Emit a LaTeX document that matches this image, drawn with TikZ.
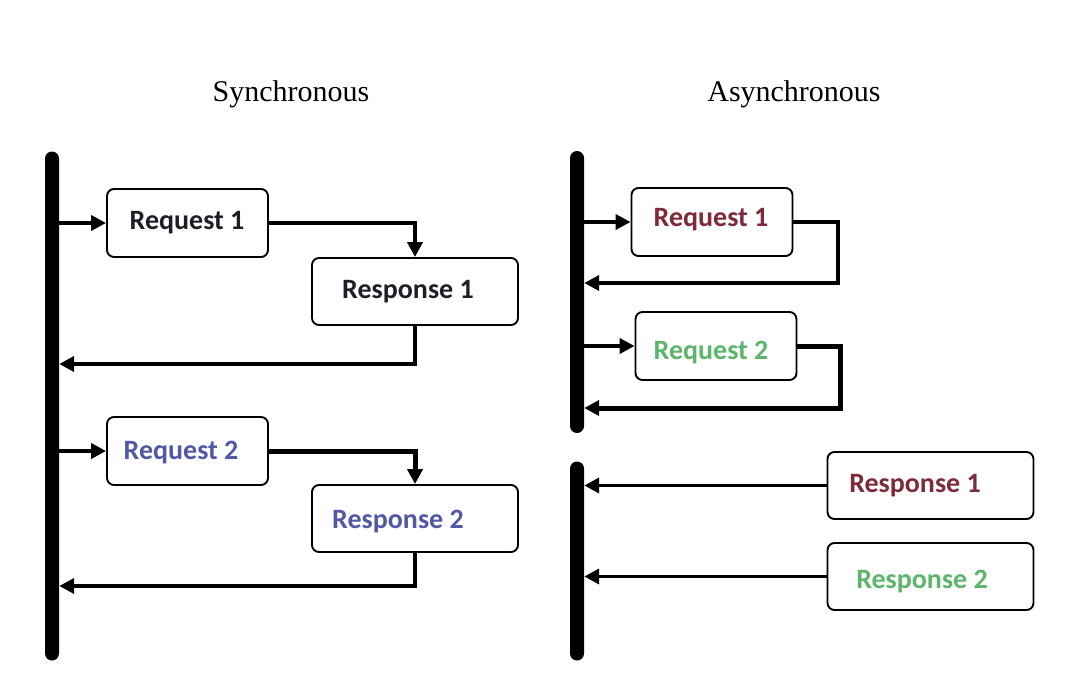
\documentclass[tikz,border=0pt]{standalone}
\usepackage{fontspec}
\setmainfont{Liberation Serif}
\newfontfamily\boxfont{Carlito}
\usetikzlibrary{arrows.meta}

\definecolor{inkdark}{HTML}{1E1E28}
\definecolor{inkblue}{HTML}{5257A6}
\definecolor{inkmaroon}{HTML}{7D2A3A}
\definecolor{inkgreen}{HTML}{5DB56B}

\tikzset{
  lifeline/.style={rectangle, fill=black, rounded corners=7pt, minimum width=14pt, inner sep=0pt},
  msgbox/.style={rectangle, draw=black, line width=1.9pt, rounded corners=7pt, fill=white, inner sep=0pt},
  reqbox/.style={msgbox, minimum width=161pt, minimum height=68pt},
  resbox/.style={msgbox, minimum width=206pt, minimum height=67pt},
  msgtext/.style={font=\boxfont\bfseries\fontsize{28}{32}\selectfont, inner sep=0pt},
  heading/.style={font=\fontsize{30}{34}\selectfont, inner sep=0pt},
  conn/.style={line width=3.8pt, -{Triangle[length=15pt,width=15pt]}},
  connheavy/.style={conn, line width=5pt}
}

\begin{document}
\begin{tikzpicture}[x=1pt, y=-1pt]
  \useasboundingbox (0,0) rectangle (1066,688);

  % headings
  \node[heading] (tsync) at (291,94) {Synchronous};
  \node[heading] (tasync) at (794,94) {Asynchronous};

  % lifelines
  \node[lifeline, minimum height=509pt] (sbar) at (52,406) {};
  \node[lifeline, minimum height=282pt] (abar1) at (577,292) {};
  \node[lifeline, minimum height=199pt] (abar2) at (577,561) {};

  % ---- synchronous side ----
  \node[reqbox] (sreq1) at (187.5,223) {};
  \node[resbox] (sres1) at (415,291.5) {};
  \node[reqbox] (sreq2) at (187.5,451) {};
  \node[resbox] (sres2) at (415,518.5) {};

  \node[msgtext, text=inkdark] (tsreq1) at (187,223) {Request 1};
  \node[msgtext, text=inkdark] (tsres1) at (408,292) {Response 1};
  \node[msgtext, text=inkblue] (tsreq2) at (181,453) {Request 2};
  \node[msgtext, text=inkblue] (tsres2) at (398,522) {Response 2};

  \coordinate (sret1) at (sbar.east |- 0,364);
  \coordinate (sret2) at (sbar.east |- 0,586);

  \draw[conn] (sbar.center |- sreq1.west) -- (sreq1.west);
  \draw[conn] (sreq1.east) -| (sres1.north);
  \draw[conn] (sres1.south) |- (sret1);

  \draw[conn] (sbar.center |- sreq2.west) -- (sreq2.west);
  \draw[connheavy] (sreq2.east) -| (sres2.north);
  \draw[conn] (sres2.south) |- (sret2);

  % ---- asynchronous side ----
  \node[reqbox] (areq1) at (712,222) {};
  \node[reqbox] (areq2) at (716,346) {};
  \node[resbox] (ares1) at (930.5,485.5) {};
  \node[resbox] (ares2) at (930.5,576.5) {};

  \node[msgtext, text=inkmaroon] (tareq1) at (711,220) {Request 1};
  \node[msgtext, text=inkgreen] (tareq2) at (711,353) {Request 2};
  \node[msgtext, text=inkmaroon] (tares1) at (915,486) {Response 1};
  \node[msgtext, text=inkgreen] (tares2) at (922,582) {Response 2};

  \coordinate (aturn1) at (838,283);
  \coordinate (aturn2) at (840,408);
  \coordinate (aret1) at (abar1.east |- aturn1);
  \coordinate (aret2) at (abar1.east |- aturn2);

  \draw[conn] (abar1.center |- areq1.west) -- (areq1.west);
  \draw[conn] (areq1.east) -| (aturn1) -- (aret1);

  \draw[conn] (abar1.center |- areq2.west) -- (areq2.west);
  \draw[connheavy] (areq2.east) -| (aturn2) -- (aret2);

  \draw[conn] (ares1.west) -- (ares1.west -| abar2.east);
  \draw[conn] (ares2.west) -- (ares2.west -| abar2.east);
\end{tikzpicture}
\end{document}
